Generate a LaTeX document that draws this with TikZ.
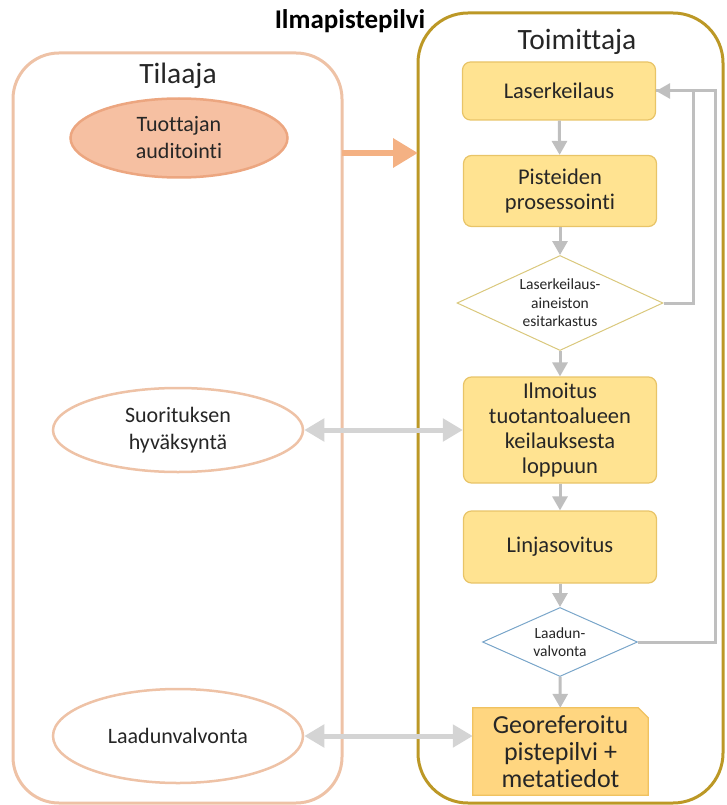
\documentclass[tikz,border=0pt]{standalone}
\usepackage{fontspec}
\setmainfont{Carlito}[RawFeature={-liga;-clig;-dlig;-calt}]
\usetikzlibrary{shapes.geometric,arrows.meta,calc}
\pgfdeclarelayer{background}
\pgfsetlayers{background,main}
\definecolor{peach}{RGB}{238,194,166}
\definecolor{salmon}{RGB}{246,192,162}
\definecolor{salmondark}{RGB}{236,166,128}
\definecolor{orarrow}{RGB}{244,177,131}
\definecolor{gold}{RGB}{188,152,38}
\definecolor{yfill}{RGB}{255,227,145}
\definecolor{ydraw}{RGB}{232,196,104}
\definecolor{d1draw}{RGB}{218,200,124}
\definecolor{d2draw}{RGB}{122,166,202}
\definecolor{docfill}{RGB}{255,214,128}
\definecolor{docdraw}{RGB}{240,194,96}
\definecolor{garrow}{RGB}{191,191,191}
\definecolor{larrow}{RGB}{212,212,212}
\definecolor{txt}{RGB}{38,38,38}
\begin{document}
\begin{tikzpicture}[x=1pt,y=-1pt,
  every node/.style={text=txt, align=center},
  lane/.style={draw, line width=3, rounded corners=46, inner sep=0},
  ybox/.style={draw=ydraw, fill=yfill, line width=1.2, rounded corners=8, minimum width=193, inner sep=0, font=\fontsize{22.5}{25}\selectfont},
  dia/.style={diamond, draw, fill=white, line width=1, inner sep=0},
  ell/.style={ellipse, draw=peach, fill=white, line width=2.5, minimum width=250, inner sep=0, font=\fontsize{22}{27}\selectfont},
  flow/.style={draw=garrow, line width=3, -{Triangle[length=14,width=15]}},
  both/.style={draw=larrow, line width=5, {Triangle[length=20,width=22]}-{Triangle[length=20,width=22]}}
]
\useasboundingbox (0,0) rectangle (727,805);

% containers
\node[lane, draw=peach, minimum width=329, minimum height=750] (tilaaja) at (177.5,428) {};
\node[lane, draw=gold, minimum width=305, minimum height=790, rounded corners=50] (toim) at (570.5,408) {};

% titles
\node[font=\bfseries\fontsize{27}{30}\selectfont, text=black] (title) at (350,21) {Ilmapistepilvi};
\node[font=\fontsize{29.5}{32}\selectfont] (tl) at (178,76) {Tilaaja};
\node[font=\fontsize{29.5}{32}\selectfont] (tm) at (577,42) {Toimittaja};

% left side
\node[ell, draw=salmondark, fill=salmon, minimum width=217, minimum height=79] (aud) at (179,138) {Tuottajan\\auditointi};
\node[ell, minimum height=84] (suo) at (178,430) {Suorituksen\\hyväksyntä};
\node[ell, minimum height=94] (laa) at (178,736) {Laadunvalvonta};

% right side flow
\node[ybox, minimum height=58] (las) at (559,91) {Laserkeilaus};
\node[ybox, minimum height=71] (pis) at (560,191) {Pisteiden\\prosessointi};
\node[dia, draw=d1draw, minimum width=206, minimum height=95, shape aspect=2.17, font=\fontsize{15.5}{18.5}\selectfont] (d1) at (560,303) {Laserkeilaus-\\aineiston\\esitarkastus};
\node[ybox, minimum height=106] (ilm) at (560,430) {Ilmoitus\\tuotantoalueen\\keilauksesta\\loppuun};
\node[ybox, minimum height=72] (lin) at (560,547) {Linjasovitus};
\node[dia, draw=d2draw, minimum width=155, minimum height=69, shape aspect=2.25, font=\fontsize{15.5}{18.5}\selectfont] (d2) at (560,642) {Laadun-\\valvonta};
\node[minimum width=175, minimum height=87, inner sep=0, font=\fontsize{26}{27}\selectfont] (doc) at (560.5,751.5) {Georeferoitu\\pistepilvi +\\metatiedot};
\begin{pgfonlayer}{background}
\path[fill=docfill, draw=docdraw, line width=1.2]
  (doc.south west) -- (doc.north west) -- ($(doc.north east)+(-10,0)$) -- ($(doc.north east)+(0,10)$) -- (doc.south east) -- cycle;
\end{pgfonlayer}

% orange arrow
\coordinate (oa1) at (342,153);
\coordinate (oa2) at (418,153);
\draw[orarrow, line width=6.5, -{Triangle[length=25,width=28]}] (oa1) -- (oa2);

% flow arrows
\draw[flow] (las) -- (pis);
\draw[flow] (pis) -- (d1);
\draw[flow] (d1) -- (ilm);
\draw[flow] (ilm) -- (lin);
\draw[flow] (lin) -- (d2);
\draw[flow] (d2) -- (doc);
\draw[draw=garrow, line width=3] (d1.east) -- ++(30,0) |- (las.east);
\draw[flow] (d2.east) -- ++(77,0) |- (las.east);

% double arrows
\draw[both] (suo) -- (ilm);
\draw[both] (laa.east) -- (doc.west |- laa.east);
\end{tikzpicture}
\end{document}
